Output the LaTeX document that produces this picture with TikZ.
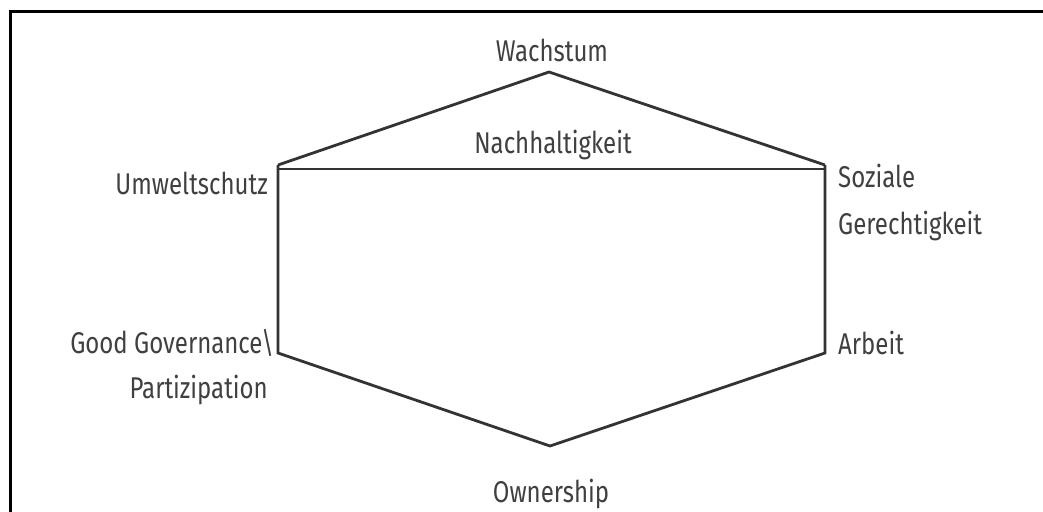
\documentclass[tikz,border=0pt]{standalone}
\usepackage{fontspec}
\setmainfont{Fira Sans}[FakeStretch=0.8]
\begin{document}
\begin{tikzpicture}[x=1pt,y=-1pt,
  hexline/.style={draw=black!80,line width=2.8pt,line join=miter},
  lbl/.style={font=\fontsize{30}{32}\selectfont,text=black!75,inner sep=0pt}]
\useasboundingbox (0,0) rectangle (1043,511);
\fill[white] (0,0) rectangle (1043,511);
\draw[line width=3pt] (10,520) -- (10,12) -- (1050,12);
% corners
\coordinate (top) at (549,72);
\coordinate (tl) at (278,165);
\coordinate (tr) at (825,165);
\coordinate (bl) at (278,353);
\coordinate (br) at (825,353);
\coordinate (bot) at (550,446);
\coordinate (hl) at (278,169);
\coordinate (hr) at (825,169);
\draw[hexline] (tl) -- (top) -- (tr);
\draw[hexline] (hl) -- (hr);
\draw[hexline] (tl) -- (bl) -- (bot) -- (br) -- (tr);
% labels
\node[lbl] (wachstum) at (552,50) {Wachstum};
\node[lbl] (nachhalt) at (553,145) {Nachhaltigkeit};
\node[lbl,anchor=west] (soziale) at (838,176) {Soziale};
\node[lbl,anchor=west] (gerecht) at (838,226) {Gerechtigkeit};
\node[lbl,anchor=west] (arbeit) at (838,343) {Arbeit};
\node[lbl,anchor=east] (umwelt) at (268,183) {Umweltschutz};
\node[lbl,anchor=east] (good) at (274,343) {Good Governance\textbackslash};
\node[lbl,anchor=east] (partiz) at (268,390) {Partizipation};
\node[lbl] (owner) at (551,494) {Ownership};
\end{tikzpicture}
\end{document}
